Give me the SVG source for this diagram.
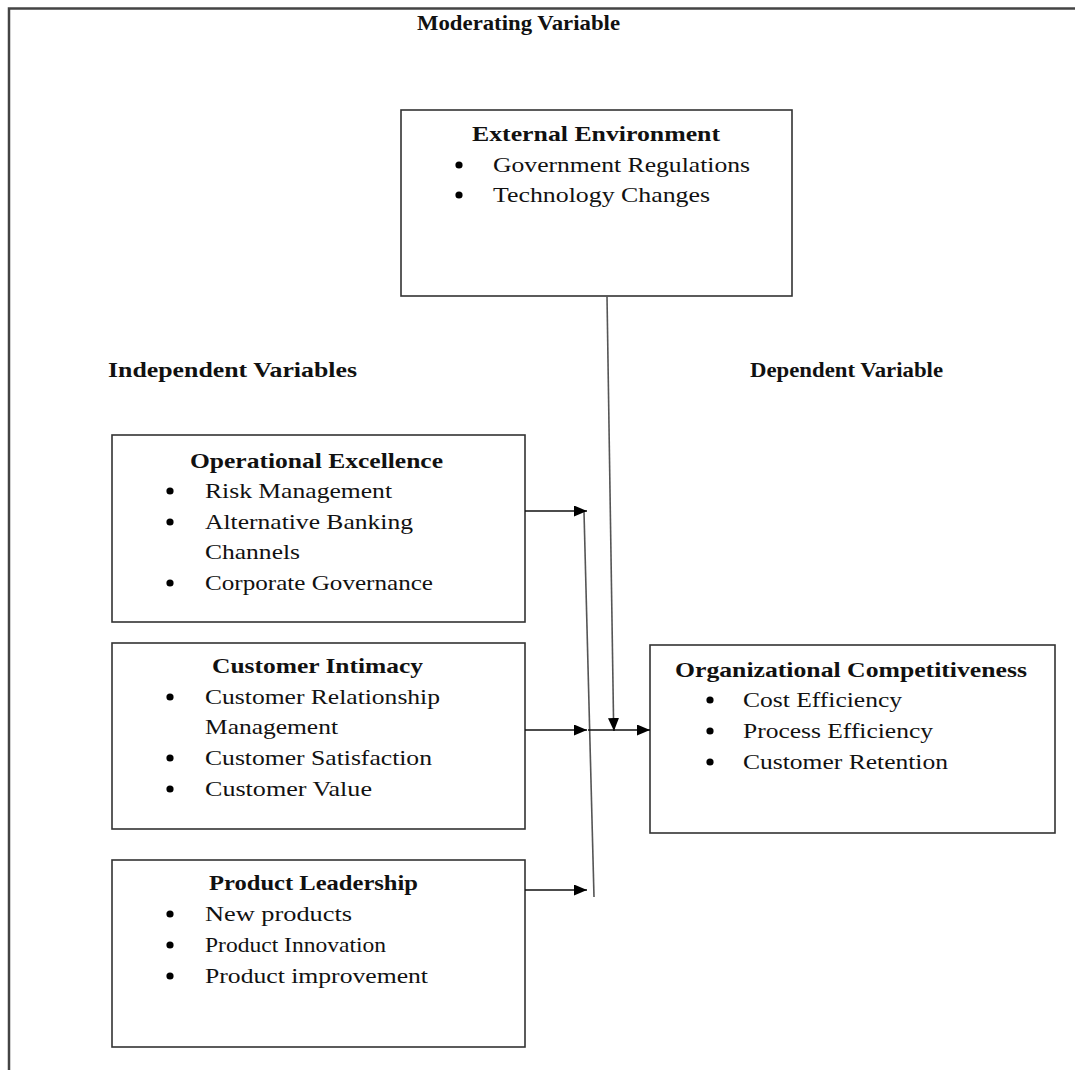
<svg xmlns="http://www.w3.org/2000/svg" width="1075" height="1070" viewBox="0 0 1075 1070">
<defs>
<style>
text{font-family:"Liberation Serif","Times New Roman",serif;font-size:22px;fill:#111}
.b{font-weight:bold}
.box{fill:#fff;stroke:#333;stroke-width:1.6}
.con{stroke:#111;stroke-width:1.5;fill:none}
.vl{stroke:#555;stroke-width:1.6;fill:none}
.dot{fill:#000}
</style>
<marker id="ah" markerUnits="userSpaceOnUse" markerWidth="14" markerHeight="11" refX="13" refY="5.5" orient="auto">
<path d="M0,0 L13,5.5 L0,11 z" fill="#000"/>
</marker>
</defs>
<rect width="1075" height="1070" fill="#fff"/>
<path d="M9,1070 V8.5 H1075" fill="none" stroke="#444" stroke-width="2.5"/>

<g id="headings">
<text class="b" x="417" y="30" textLength="203" lengthAdjust="spacingAndGlyphs">Moderating Variable</text>
<text class="b" x="108" y="377" textLength="249" lengthAdjust="spacingAndGlyphs">Independent Variables</text>
<text class="b" x="750" y="377" textLength="193" lengthAdjust="spacingAndGlyphs">Dependent Variable</text>
</g>

<g id="external-environment">
<rect class="box" x="401" y="110" width="391" height="186"/>
<text class="b" x="472" y="141" textLength="248" lengthAdjust="spacingAndGlyphs">External Environment</text>
<circle class="dot" cx="459" cy="165" r="3.6"/>
<text x="493" y="172" textLength="257" lengthAdjust="spacingAndGlyphs">Government Regulations</text>
<circle class="dot" cx="459" cy="195" r="3.6"/>
<text x="493" y="202" textLength="217" lengthAdjust="spacingAndGlyphs">Technology Changes</text>
</g>

<g id="operational-excellence">
<rect class="box" x="112" y="435" width="413" height="187"/>
<text class="b" x="190" y="468" textLength="253" lengthAdjust="spacingAndGlyphs">Operational Excellence</text>
<circle class="dot" cx="170" cy="491" r="3.6"/>
<text x="205" y="498" textLength="187" lengthAdjust="spacingAndGlyphs">Risk Management</text>
<circle class="dot" cx="170" cy="522" r="3.6"/>
<text x="205" y="529" textLength="208" lengthAdjust="spacingAndGlyphs">Alternative Banking</text>
<text x="205" y="559" textLength="95" lengthAdjust="spacingAndGlyphs">Channels</text>
<circle class="dot" cx="170" cy="583" r="3.6"/>
<text x="205" y="590" textLength="228" lengthAdjust="spacingAndGlyphs">Corporate Governance</text>
</g>

<g id="customer-intimacy">
<rect class="box" x="112" y="643" width="413" height="186"/>
<text class="b" x="212" y="673" textLength="211" lengthAdjust="spacingAndGlyphs">Customer Intimacy</text>
<circle class="dot" cx="170" cy="697" r="3.6"/>
<text x="205" y="704" textLength="235" lengthAdjust="spacingAndGlyphs">Customer Relationship</text>
<text x="205" y="734" textLength="133" lengthAdjust="spacingAndGlyphs">Management</text>
<circle class="dot" cx="170" cy="758" r="3.6"/>
<text x="205" y="765" textLength="227" lengthAdjust="spacingAndGlyphs">Customer Satisfaction</text>
<circle class="dot" cx="170" cy="789" r="3.6"/>
<text x="205" y="796" textLength="167" lengthAdjust="spacingAndGlyphs">Customer Value</text>
</g>

<g id="product-leadership">
<rect class="box" x="112" y="860" width="413" height="187"/>
<text class="b" x="209" y="890" textLength="209" lengthAdjust="spacingAndGlyphs">Product Leadership</text>
<circle class="dot" cx="170" cy="914" r="3.6"/>
<text x="205" y="921" textLength="147" lengthAdjust="spacingAndGlyphs">New products</text>
<circle class="dot" cx="170" cy="945" r="3.6"/>
<text x="205" y="952" textLength="181" lengthAdjust="spacingAndGlyphs">Product Innovation</text>
<circle class="dot" cx="170" cy="976" r="3.6"/>
<text x="205" y="983" textLength="223" lengthAdjust="spacingAndGlyphs">Product improvement</text>
</g>

<g id="organizational-competitiveness">
<rect class="box" x="650" y="645" width="405" height="188"/>
<text class="b" x="675" y="677" textLength="352" lengthAdjust="spacingAndGlyphs">Organizational Competitiveness</text>
<circle class="dot" cx="710" cy="700" r="3.6"/>
<text x="743" y="707" textLength="159" lengthAdjust="spacingAndGlyphs">Cost Efficiency</text>
<circle class="dot" cx="710" cy="731" r="3.6"/>
<text x="743" y="738" textLength="190" lengthAdjust="spacingAndGlyphs">Process Efficiency</text>
<circle class="dot" cx="710" cy="762" r="3.6"/>
<text x="743" y="769" textLength="205" lengthAdjust="spacingAndGlyphs">Customer Retention</text>
</g>

<g id="connectors">
<line class="vl" x1="584" y1="512" x2="594" y2="897"/>
<line class="vl" x1="607" y1="296" x2="613.5" y2="718"/>
<line class="con" x1="613.5" y1="718" x2="614" y2="731" marker-end="url(#ah)"/>
<line class="con" x1="525" y1="511" x2="587" y2="511" marker-end="url(#ah)"/>
<line class="con" x1="525" y1="730" x2="587" y2="730" marker-end="url(#ah)"/>
<line class="con" x1="525" y1="890" x2="587" y2="890" marker-end="url(#ah)"/>
<line class="con" x1="588" y1="730" x2="650" y2="730" marker-end="url(#ah)"/>
</g>
</svg>
